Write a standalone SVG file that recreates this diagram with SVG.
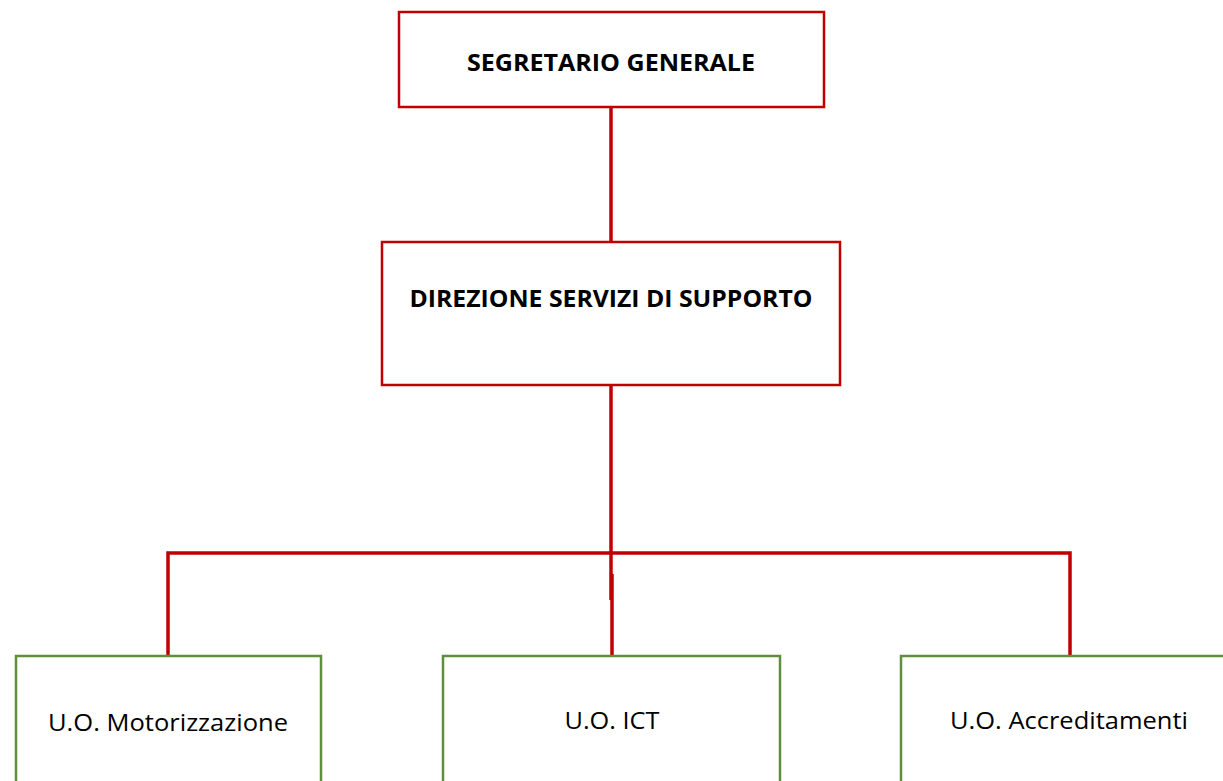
<svg xmlns="http://www.w3.org/2000/svg" width="1223" height="781" viewBox="0 0 1223 781">
<style>
.red{fill:#ffffff;stroke:#c00000;stroke-width:2.5}
.green{fill:#ffffff;stroke:#5f8f3c;stroke-width:2.5}
.conn{stroke:#c00000;stroke-width:3.5;fill:none}
.tb{font-family:"Open Sans","Liberation Sans",sans-serif;font-weight:bold;font-size:24px;fill:#000;text-anchor:middle}
.tr{font-family:"Open Sans","Liberation Sans",sans-serif;font-size:24px;fill:#000;text-anchor:middle}
</style>
<rect width="1223" height="781" fill="#ffffff"/>
<g id="connectors">
<line class="conn" x1="611" y1="107" x2="611" y2="242"/>
<line class="conn" x1="611" y1="385" x2="611" y2="600"/>
<line class="conn" x1="612" y1="574" x2="612" y2="656"/>
<polyline class="conn" points="168,656 168,553 1070,553 1070,656"/>
</g>
<g id="n1">
<rect class="red" x="399" y="12" width="425" height="95"/>
<text class="tb" x="611" y="71" textLength="288" lengthAdjust="spacingAndGlyphs">SEGRETARIO GENERALE</text>
</g>
<g id="n2">
<rect class="red" x="382" y="242" width="458" height="143"/>
<text class="tb" x="611" y="307" textLength="403" lengthAdjust="spacingAndGlyphs">DIREZIONE SERVIZI DI SUPPORTO</text>
</g>
<g id="n3">
<rect class="green" x="16" y="656" width="305" height="140"/>
<text class="tr" x="168" y="731" textLength="240" lengthAdjust="spacingAndGlyphs">U.O. Motorizzazione</text>
</g>
<g id="n4">
<rect class="green" x="443" y="656" width="337" height="140"/>
<text class="tr" x="612" y="729" textLength="95" lengthAdjust="spacingAndGlyphs">U.O. ICT</text>
</g>
<g id="n5">
<rect class="green" x="901" y="656" width="340" height="140"/>
<text class="tr" x="1069" y="729" textLength="238" lengthAdjust="spacingAndGlyphs">U.O. Accreditamenti</text>
</g>
</svg>
